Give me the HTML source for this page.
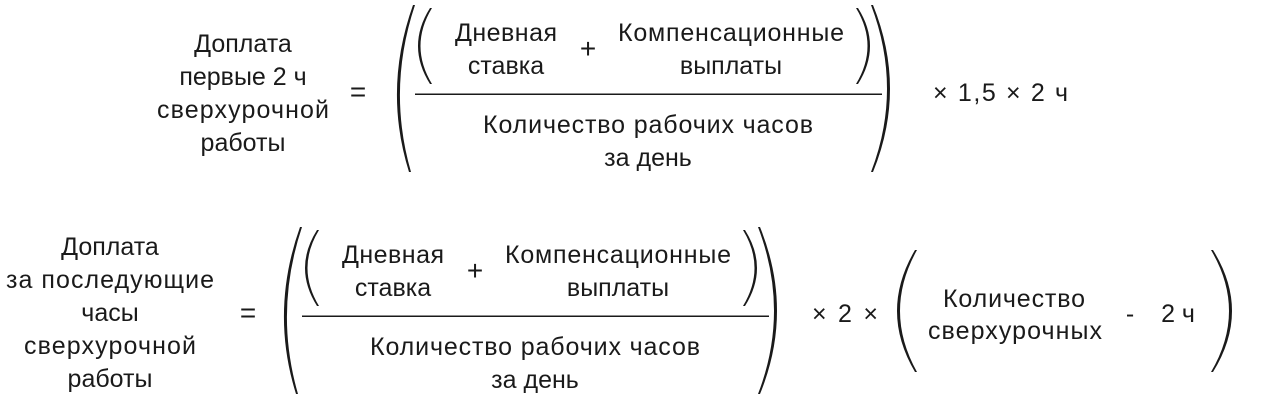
<!DOCTYPE html>
<html><head><meta charset="utf-8"><style>
html,body{margin:0;padding:0;background:#fff;width:1263px;height:402px;overflow:hidden}
svg text{font-family:"Liberation Sans","DejaVu Sans",sans-serif;font-size:25px;fill:#1a1a1a}
</style></head><body>
<svg width="1263" height="402" viewBox="0 0 1263 402" xmlns="http://www.w3.org/2000/svg">
<defs>
<g id="frac">
  <path d="M413,5 Q383,89 409,172 L411,172 Q387,89 415,5 Z" fill="#1a1a1a"/>
  <path d="M430,8 Q406,46 430,84 L432,84 Q409,46 432,8 Z" fill="#1a1a1a"/>
  <path d="M858,8 Q882,46 858,84 L856,84 Q879,46 856,8 Z" fill="#1a1a1a"/>
  <path d="M873,5 Q907,89 873,172 L871,172 Q903,89 871,5 Z" fill="#1a1a1a"/>
  <text x="506" y="41" text-anchor="middle" textLength="102">Дневная</text>
  <text x="506" y="74" text-anchor="middle">ставка</text>
  <text x="588" y="58" text-anchor="middle" style="font-size:28px">+</text>
  <text x="731" y="41" text-anchor="middle" textLength="226">Компенсационные</text>
  <text x="731" y="74" text-anchor="middle">выплаты</text>
  <rect x="415" y="93.5" width="467" height="1.5" fill="#1a1a1a"/>
  <text x="648" y="133" text-anchor="middle" textLength="330">Количество рабочих часов</text>
  <text x="648" y="166" text-anchor="middle">за день</text>
</g>
</defs>
<text x="243" y="52" text-anchor="middle">Доплата</text>
<text x="243" y="85" text-anchor="middle">первые 2 ч</text>
<text x="243" y="118" text-anchor="middle" textLength="172">сверхурочной</text>
<text x="243" y="151" text-anchor="middle">работы</text>
<text x="358" y="101" text-anchor="middle" style="font-size:28px">=</text>
<use href="#frac"/>
<text x="933" y="101" textLength="135">× 1,5 × 2 ч</text>
<text x="110" y="255" text-anchor="middle">Доплата</text>
<text x="110" y="288" text-anchor="middle" textLength="208">за последующие</text>
<text x="110" y="321" text-anchor="middle">часы</text>
<text x="110" y="354" text-anchor="middle" textLength="172">сверхурочной</text>
<text x="110" y="387" text-anchor="middle">работы</text>
<text x="248" y="322" text-anchor="middle" style="font-size:28px">=</text>
<use href="#frac" transform="translate(-113,222)"/>
<text x="812" y="322" textLength="66">× 2 ×</text>
<path d="M915,250 Q879,311 915,372 L917,372 Q883,311 917,250 Z" fill="#1a1a1a"/>
<path d="M1213,250 Q1251,311 1213,372 L1211,372 Q1247,311 1211,250 Z" fill="#1a1a1a"/>
<text x="1014" y="307" text-anchor="middle" textLength="142">Количество</text>
<text x="1015" y="339" text-anchor="middle" textLength="174">сверхурочных</text>
<text x="1130" y="322" text-anchor="middle">-</text>
<text x="1178" y="322" text-anchor="middle">2 ч</text>
</svg>
</body></html>
